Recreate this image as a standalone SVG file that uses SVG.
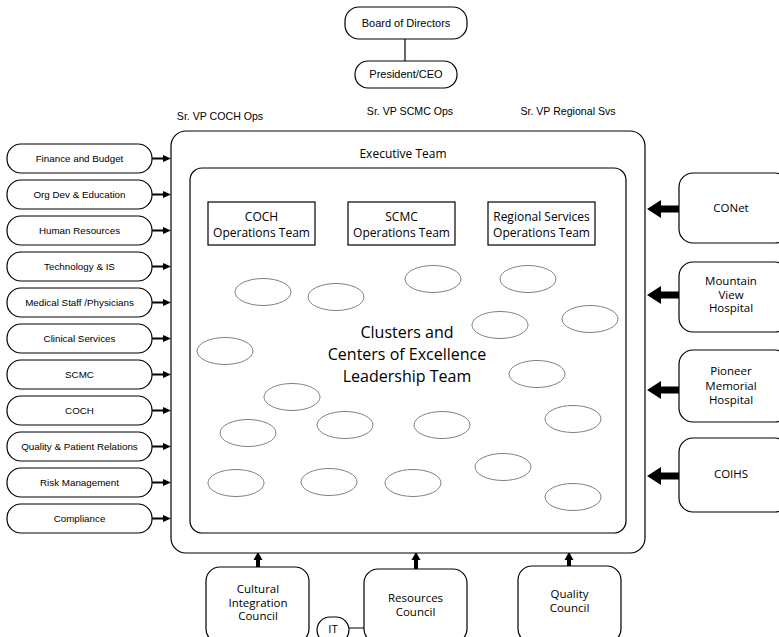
<svg xmlns="http://www.w3.org/2000/svg" width="779" height="637" viewBox="0 0 779 637">
<style>
.box{fill:#fff;stroke:#000;stroke-width:1.2}
.ell{fill:none;stroke:#808080;stroke-width:1}
.sm{font-family:"Liberation Sans",Arial,sans-serif;font-size:9.8px;fill:#000;text-anchor:middle}
.md{font-family:"Liberation Sans",Arial,sans-serif;font-size:11px;fill:#000;text-anchor:middle}
.hm{font-family:"Open Sans","Noto Sans",sans-serif;font-size:11.5px;fill:#000;text-anchor:middle}
.big{font-family:"Open Sans","Noto Sans",sans-serif;font-size:16px;fill:#000;text-anchor:middle}
.arr{fill:#000;stroke:none}
</style>
<rect width="779" height="637" fill="#fff"/>
<g id="connectors">
<line x1="405" y1="39" x2="405" y2="61" stroke="#000" stroke-width="1.2"/>
<line x1="349" y1="628" x2="364" y2="628" stroke="#000" stroke-width="1"/>
<g id="left-arrows" class="arr">
<polygon points="152,157.5 163,157.5 163,155 171,158.5 163,162 163,159.5 152,159.5"/>
<polygon points="152,193.5 163,193.5 163,191 171,194.5 163,198 163,195.5 152,195.5"/>
<polygon points="152,229.5 163,229.5 163,227 171,230.5 163,234 163,231.5 152,231.5"/>
<polygon points="152,265.5 163,265.5 163,263 171,266.5 163,270 163,267.5 152,267.5"/>
<polygon points="152,301.5 163,301.5 163,299 171,302.5 163,306 163,303.5 152,303.5"/>
<polygon points="152,337.5 163,337.5 163,335 171,338.5 163,342 163,339.5 152,339.5"/>
<polygon points="152,373.5 163,373.5 163,371 171,374.5 163,378 163,375.5 152,375.5"/>
<polygon points="152,409.5 163,409.5 163,407 171,410.5 163,414 163,411.5 152,411.5"/>
<polygon points="152,445.5 163,445.5 163,443 171,446.5 163,450 163,447.5 152,447.5"/>
<polygon points="152,481.5 163,481.5 163,479 171,482.5 163,486 163,483.5 152,483.5"/>
<polygon points="152,517.5 163,517.5 163,515 171,518.5 163,522 163,519.5 152,519.5"/>
</g>
<g id="right-arrows" class="arr">
<polygon points="647,209 661,200 661,205.5 679,205.5 679,212.5 661,212.5 661,218"/>
<polygon points="647,295 661,286 661,291.5 679,291.5 679,298.5 661,298.5 661,304"/>
<polygon points="647,390 661,381 661,386.5 679,386.5 679,393.5 661,393.5 661,399"/>
<polygon points="647,476 661,467 661,472.5 679,472.5 679,479.5 661,479.5 661,485"/>
</g>
<g id="up-arrows" class="arr">
<polygon points="258,552 262.5,560 260,560 260,567 256,567 256,560 253.5,560"/>
<polygon points="416,552 420.5,560 418,560 418,569 414,569 414,560 411.5,560"/>
<polygon points="569,552 573.5,560 571,560 571,566 567,566 567,560 564.5,560"/>
</g>
</g>
<g id="board"><rect class="box" x="345" y="7" width="122" height="32" rx="14"/><text class="md" x="406" y="27">Board of Directors</text></g>
<g id="ceo"><rect class="box" x="355" y="61" width="102" height="27" rx="13"/><text class="md" x="406" y="78">President/CEO</text></g>
<g id="svp-labels">
<text class="sm" x="220" y="120" style="font-size:10.6px">Sr. VP COCH Ops</text>
<text class="sm" x="410" y="115" style="font-size:10.6px">Sr. VP SCMC Ops</text>
<text class="sm" x="568" y="115" style="font-size:10.6px">Sr. VP Regional Svs</text>
</g>
<g id="executive-team"><rect class="box" x="171" y="131" width="474" height="422" rx="15"/><text class="hm" x="403" y="158" style="font-size:12px">Executive Team</text></g>
<g id="leadership-team"><rect class="box" x="190" y="168" width="436" height="365" rx="12"/>
<text class="big" x="407" y="338">Clusters and</text>
<text class="big" x="407" y="360">Centers of Excellence</text>
<text class="big" x="407" y="382">Leadership Team</text>
</g>
<g id="coch-ops"><rect class="box" x="208" y="202" width="107" height="43"/><text class="hm" x="261.5" y="221" style="font-size:12px">COCH</text><text class="hm" x="261.5" y="237" style="font-size:12px">Operations Team</text></g>
<g id="scmc-ops"><rect class="box" x="348" y="202" width="107" height="43"/><text class="hm" x="401.5" y="221" style="font-size:12px">SCMC</text><text class="hm" x="401.5" y="237" style="font-size:12px">Operations Team</text></g>
<g id="regional-ops"><rect class="box" x="488" y="202" width="107" height="43"/><text class="hm" x="541.5" y="221" style="font-size:12px">Regional Services</text><text class="hm" x="541.5" y="237" style="font-size:12px">Operations Team</text></g>
<g id="clusters">
<ellipse class="ell" cx="263" cy="292" rx="28" ry="13.5"/>
<ellipse class="ell" cx="336" cy="297" rx="28" ry="13.5"/>
<ellipse class="ell" cx="433" cy="279" rx="28" ry="13.5"/>
<ellipse class="ell" cx="528" cy="279" rx="28" ry="13.5"/>
<ellipse class="ell" cx="500" cy="325" rx="28" ry="13.5"/>
<ellipse class="ell" cx="590" cy="319" rx="28" ry="13.5"/>
<ellipse class="ell" cx="225" cy="351" rx="28" ry="13.5"/>
<ellipse class="ell" cx="537" cy="374" rx="28" ry="13.5"/>
<ellipse class="ell" cx="292" cy="397" rx="28" ry="13.5"/>
<ellipse class="ell" cx="248" cy="433" rx="28" ry="13.5"/>
<ellipse class="ell" cx="345" cy="425" rx="28" ry="13.5"/>
<ellipse class="ell" cx="442" cy="425" rx="28" ry="13.5"/>
<ellipse class="ell" cx="573" cy="419" rx="28" ry="13.5"/>
<ellipse class="ell" cx="236" cy="483" rx="28" ry="13.5"/>
<ellipse class="ell" cx="329" cy="482" rx="28" ry="13.5"/>
<ellipse class="ell" cx="413" cy="483" rx="28" ry="13.5"/>
<ellipse class="ell" cx="503" cy="467" rx="28" ry="13.5"/>
<ellipse class="ell" cx="573" cy="497" rx="28" ry="13.5"/>
</g>
<g id="finance"><rect class="box" x="7" y="144" width="145" height="29" rx="14"/><text class="sm" x="79.5" y="162">Finance and Budget</text></g>
<g id="orgdev"><rect class="box" x="7" y="180" width="145" height="29" rx="14"/><text class="sm" x="79.5" y="198">Org Dev &amp; Education</text></g>
<g id="hr"><rect class="box" x="7" y="216" width="145" height="29" rx="14"/><text class="sm" x="79.5" y="234">Human Resources</text></g>
<g id="tech"><rect class="box" x="7" y="252" width="145" height="29" rx="14"/><text class="sm" x="79.5" y="270">Technology &amp; IS</text></g>
<g id="medstaff"><rect class="box" x="7" y="288" width="145" height="29" rx="14"/><text class="sm" x="79.5" y="306">Medical Staff /Physicians</text></g>
<g id="clinical"><rect class="box" x="7" y="324" width="145" height="29" rx="14"/><text class="sm" x="79.5" y="342">Clinical Services</text></g>
<g id="scmc"><rect class="box" x="7" y="360" width="145" height="29" rx="14"/><text class="sm" x="79.5" y="378">SCMC</text></g>
<g id="coch"><rect class="box" x="7" y="396" width="145" height="29" rx="14"/><text class="sm" x="79.5" y="414">COCH</text></g>
<g id="quality-pr"><rect class="box" x="7" y="432" width="145" height="29" rx="14"/><text class="sm" x="79.5" y="450">Quality &amp; Patient Relations</text></g>
<g id="risk"><rect class="box" x="7" y="468" width="145" height="29" rx="14"/><text class="sm" x="79.5" y="486">Risk Management</text></g>
<g id="compliance"><rect class="box" x="7" y="504" width="145" height="29" rx="14"/><text class="sm" x="79.5" y="522">Compliance</text></g>
<g id="conet"><rect class="box" x="679" y="173" width="110" height="70" rx="14"/><text class="hm" x="731" y="212">CONet</text></g>
<g id="mountain-view"><rect class="box" x="679" y="262" width="110" height="70" rx="14"/><text class="hm" x="731" y="285">Mountain</text><text class="hm" x="731" y="298.5">View</text><text class="hm" x="731" y="312">Hospital</text></g>
<g id="pioneer"><rect class="box" x="679" y="350" width="110" height="72" rx="14"/><text class="hm" x="731" y="375">Pioneer</text><text class="hm" x="731" y="389.5">Memorial</text><text class="hm" x="731" y="404">Hospital</text></g>
<g id="coihs"><rect class="box" x="679" y="438" width="110" height="74" rx="14"/><text class="hm" x="731" y="478">COIHS</text></g>
<g id="cultural"><rect class="box" x="206" y="567" width="103" height="76" rx="14"/><text class="hm" x="258" y="593">Cultural</text><text class="hm" x="258" y="606.5">Integration</text><text class="hm" x="258" y="620">Council</text></g>
<g id="resources"><rect class="box" x="364" y="569" width="103" height="74" rx="14"/><text class="hm" x="415.5" y="602">Resources</text><text class="hm" x="415.5" y="616">Council</text></g>
<g id="quality-council"><rect class="box" x="518" y="566" width="103" height="77" rx="14"/><text class="hm" x="569.5" y="598">Quality</text><text class="hm" x="569.5" y="612">Council</text></g>
<g id="it"><rect class="box" x="317" y="617" width="32" height="26" rx="13"/><text class="hm" x="333" y="633">IT</text></g>
</svg>
